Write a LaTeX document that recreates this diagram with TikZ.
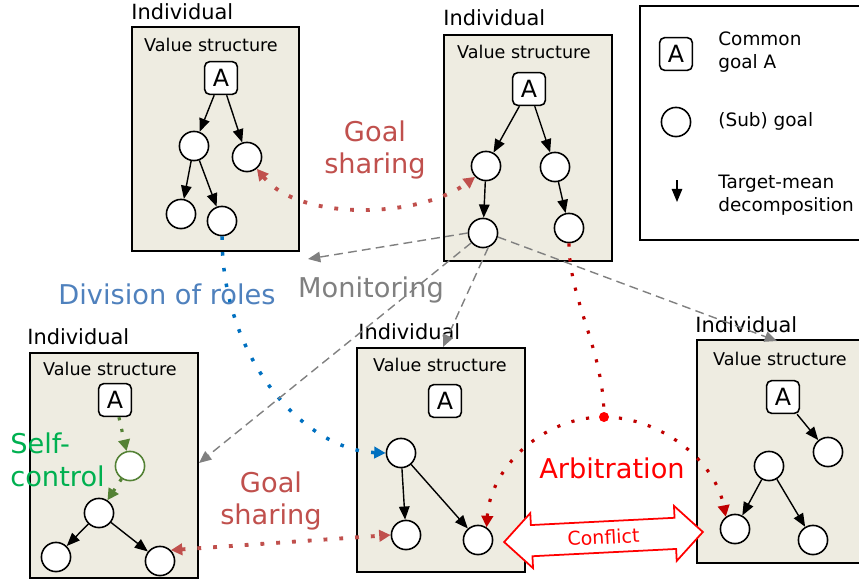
\documentclass[tikz,border=0pt]{standalone}
\usepackage{fontspec}
\setmainfont{DejaVu Sans}
\usetikzlibrary{arrows.meta}
\usetikzlibrary{fit}
\usetikzlibrary{shapes.arrows}

\definecolor{boxfill}{HTML}{EEECE1}
\definecolor{sharered}{HTML}{C0504D}
\definecolor{roleblue}{HTML}{0070C0}
\definecolor{roletext}{HTML}{4F81BD}
\definecolor{arbred}{HTML}{C00000}
\definecolor{selfgreen}{HTML}{00B050}
\definecolor{dotgreen}{HTML}{548235}
\definecolor{mongray}{HTML}{808080}

\begin{document}
\begin{tikzpicture}[x=0.02cm, y=-0.02cm, font=\fontsize{10.5}{13}\selectfont,
  valbox/.style = {draw, line width=1pt, fill=boxfill, inner sep=0pt},
  indiv/.style = {anchor=base west, inner sep=0pt, font=\fontsize{11.9}{14}\selectfont},
  valtext/.style = {anchor=base, inner sep=0pt, font=\fontsize{10}{12}\selectfont},
  common/.style = {draw, line width=0.9pt, fill=white, rounded corners=3pt, minimum size=18.7pt, inner sep=0pt, font=\fontsize{13.5}{13.5}\selectfont},
  goal/.style = {circle, draw, line width=0.9pt, fill=white, minimum size=16.6pt, inner sep=0pt},
  decomp/.style = {-{Triangle[length=7.5pt,width=6pt]}, line width=0.8pt},
  share/.style = {draw=sharered, line width=2.2pt, dash pattern=on 2.2pt off 6.8pt,
    {Triangle[length=6.5pt,width=6.5pt]}-{Triangle[length=6.5pt,width=6.5pt]}},
  role/.style = {draw=roleblue, line width=2pt, dash pattern=on 2pt off 7pt, -{Triangle[length=6.5pt,width=6.5pt]}},
  arbit/.style = {draw=arbred, line width=1.8pt, dash pattern=on 1.8pt off 6.7pt},
  selfc/.style = {draw=dotgreen, line width=1.8pt, dash pattern=on 1.8pt off 5pt, -{Triangle[length=6.5pt,width=6.5pt]}},
  monitor/.style = {draw=mongray, line width=0.8pt, dash pattern=on 5pt off 3pt, -{Triangle[length=7pt,width=6pt]}},
  biglabel/.style = {align=center, inner sep=0pt, font=\fontsize{15.5}{18.7}\selectfont}]

  \clip (0,0) rectangle (859,579);

  % Boxes of the individuals
  \node[valbox, fit={(132,27) (299,251)}] (box1) {};
  \node[valbox, fit={(444,35) (612,261)}] (box2) {};
  \node[valbox, fit={(30,353) (198,578)}] (box3) {};
  \node[valbox, fit={(357,348) (525,572)}] (box4) {};
  \node[valbox, fit={(697,340) (862,563)}] (box5) {};

  \node[indiv] (ind1) at (131,19) {Individual};
  \node[indiv] (ind2) at (443,25) {Individual};
  \node[indiv] (ind3) at (27,344) {Individual};
  \node[indiv] (ind4) at (358,339) {Individual};
  \node[indiv] (ind5) at (695,332) {Individual};

  \node[valtext] (val1) at (211,51) {Value structure};
  \node[valtext] (val2) at (524,58) {Value structure};
  \node[valtext] (val3) at (110,375) {Value structure};
  \node[valtext] (val4) at (440,371) {Value structure};
  \node[valtext] (val5) at (780,365) {Value structure};

  % Legend
  \node[draw, line width=0.8pt, fit={(640,6) (862,240)}, inner sep=0pt] (legend) {};
  \node[common] (legA) at (676,54) {A};
  \node[anchor=west, align=left, inner sep=0pt] (legAtext) at (718,52) {Common\\goal A};
  \node[goal] (legg) at (676,122) {};
  \node[anchor=west, inner sep=0pt] (leggtext) at (718,121) {(Sub) goal};
  \coordinate (legtop) at (677,180);
  \coordinate (legbot) at (677,202);
  \draw[decomp] (legtop) -- (legbot);
  \node[anchor=west, align=left, inner sep=0pt] (legdtext) at (718,195) {Target-mean\\decomposition};

  % Tree of individual 1
  \node[common] (A1) at (221,78) {A};
  \node[goal] (g11) at (194,146) {};
  \node[goal] (g12) at (247,157) {};
  \node[goal] (g13) at (181,214) {};
  \node[goal] (g14) at (222,221) {};
  \draw[decomp] (A1) -- (g11);
  \draw[decomp] (A1) -- (g12);
  \draw[decomp] (g11) -- (g13);
  \draw[decomp] (g11) -- (g14);

  % Tree of individual 2
  \node[common] (A2) at (529,89) {A};
  \node[goal] (g21) at (486,166) {};
  \node[goal] (g22) at (555,167) {};
  \node[goal] (g23) at (483,233) {};
  \node[goal] (g24) at (569,228) {};
  \draw[decomp] (A2) -- (g21);
  \draw[decomp] (A2) -- (g22);
  \draw[decomp] (g21) -- (g23);
  \draw[decomp] (g22) -- (g24);

  % Tree of individual 3
  \node[common] (A3) at (115,400) {A};
  \node[goal, draw=dotgreen] (g31) at (130,466) {};
  \node[goal] (g32) at (99,513) {};
  \node[goal] (g33) at (56,557) {};
  \node[goal] (g34) at (160,561) {};
  \draw[selfc] (A3) -- (g31);
  \draw[selfc] (g31) -- (g32);
  \draw[decomp] (g32) -- (g33);
  \draw[decomp] (g32) -- (g34);

  % Tree of individual 4
  \node[common] (A4) at (445,401) {A};
  \node[goal] (g41) at (401,453) {};
  \node[goal] (g42) at (406,535) {};
  \node[goal] (g43) at (478,540) {};
  \draw[decomp] (g41) -- (g42);
  \draw[decomp] (g41) -- (g43);

  % Tree of individual 5
  \node[common] (A5) at (783,397) {A};
  \node[goal] (g51) at (828,452) {};
  \node[goal] (g52) at (769,466) {};
  \node[goal] (g53) at (735,529) {};
  \node[goal] (g54) at (813,540) {};
  \draw[decomp] (A5) -- (g51);
  \draw[decomp] (g52) -- (g53);
  \draw[decomp] (g52) -- (g54);

  % Goal sharing
  \draw[share] (g12.-50) .. controls (300,222) and (420,218) .. (g21.-135);
  \draw[share] (g34.45) -- (g42.west);

  % Division of roles
  \draw[role] (g14.south) .. controls (222,360) and (305,450) .. (g41.west);

  % Monitoring
  \coordinate (mon1) at (308,259);
  \coordinate (mon2) at (199,463);
  \coordinate (mon3) at (443,347);
  \coordinate (mon4) at (777,341);
  \draw[monitor] (g23.west) -- (mon1);
  \draw[monitor] (g23.-140) -- (mon2);
  \draw[monitor] (g23.-70) -- (mon3);
  \draw[monitor] (g23.-15) -- (mon4);

  % Arbitration
  \coordinate (arb) at (604,417);
  \draw[arbit] (g24.south) .. controls (569,300) and (604,350) .. (arb);
  \draw[arbit, -{Triangle[length=6.5pt,width=6.5pt]}] (arb) .. controls (540,417) and (490,470) .. (g43.56);
  \draw[arbit, -{Triangle[length=6.5pt,width=6.5pt]}] (arb) .. controls (660,417) and (715,460) .. (g53.127);
  \fill[red] (arb) circle (5);

  % Conflict
  \node[double arrow, draw=red, line width=1pt, fill=white, text=red, rotate=2.9,
    minimum height=3.98cm, minimum width=30pt, inner ysep=4.2pt,
    double arrow head extend=6.8pt, font=\fontsize{10.8}{12}\selectfont] (conf) at (603.5,537) {Conflict};

  % Labels
  \node[biglabel, text=sharered] (share1) at (375,150) {Goal\\sharing};
  \node[biglabel, text=sharered] (share2) at (271,501) {Goal\\sharing};
  \node[biglabel, text=roletext] (roles) at (167,294) {Division of roles};
  \node[biglabel, text=mongray] (monit) at (371,290) {Monitoring};
  \node[biglabel, text=red] (arbtext) at (612,468) {Arbitration};
  \node[biglabel, align=left, anchor=west, text=selfgreen] (self) at (10,460) {Self-\\control};
\end{tikzpicture}
\end{document}
